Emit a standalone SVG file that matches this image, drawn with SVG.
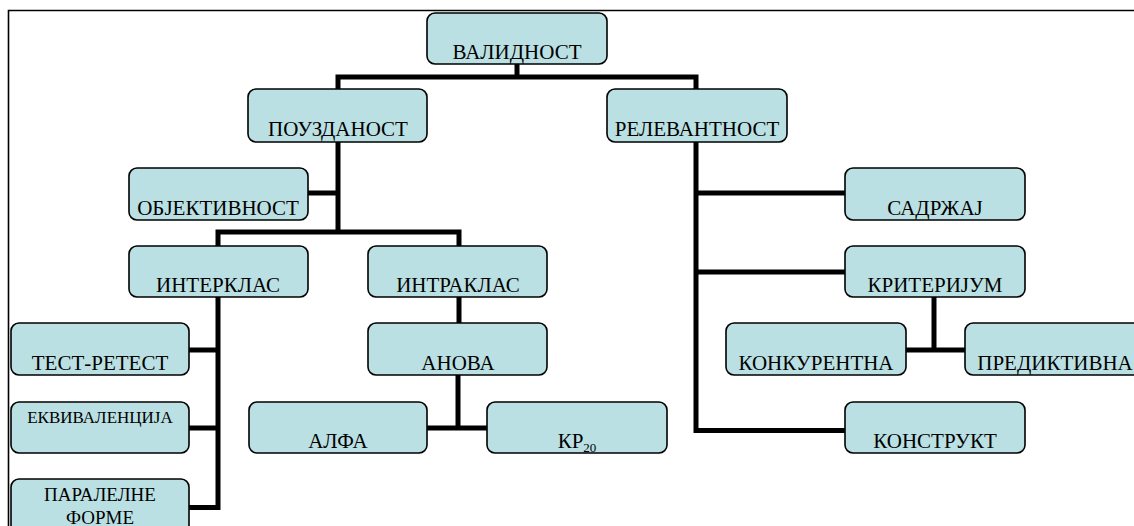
<svg xmlns="http://www.w3.org/2000/svg" width="1134" height="526" viewBox="0 0 1134 526">
<style>
.box{fill:#bae0e3;stroke:#000;stroke-width:1.6}
.t{font-family:"Liberation Serif","Times New Roman",serif;font-size:21px;fill:#000;text-anchor:middle}
.s{font-size:17px}
.p{font-size:19px}
.c{fill:none;stroke:#000;stroke-width:5;stroke-linejoin:miter;stroke-linecap:butt}
</style>
<rect width="1134" height="526" fill="#fff"/>
<path d="M8.5,530 V10.5 H1140" fill="none" stroke="#000" stroke-width="1.6"/>
<g id="connectors">
<path class="c" d="M517,64 V77"/>
<path class="c" d="M338,89 V77 H696 V89"/>
<path class="c" d="M338,142 V232"/>
<path class="c" d="M308,193 H338"/>
<path class="c" d="M218,246 V232 H459 V246"/>
<path class="c" d="M218,297 V507.5 H189"/>
<path class="c" d="M189,350 H218"/>
<path class="c" d="M189,428 H218"/>
<path class="c" d="M459,297 V323"/>
<path class="c" d="M458,375 V430"/>
<path class="c" d="M427,428 H487"/>
<path class="c" d="M696,142 V430.5 H845"/>
<path class="c" d="M696,193 H845"/>
<path class="c" d="M696,272 H845"/>
<path class="c" d="M934,297 V350"/>
<path class="c" d="M906,350 H965"/>
</g>
<g id="n-validnost"><rect class="box" x="427" y="13" width="180" height="51" rx="8"/><text class="t" x="517" y="59">ВАЛИДНОСТ</text></g>
<g id="n-pouzdanost"><rect class="box" x="248" y="89" width="179" height="53" rx="8"/><text class="t" x="338" y="136">ПОУЗДАНОСТ</text></g>
<g id="n-relevantnost"><rect class="box" x="607" y="89" width="180" height="53" rx="8"/><text class="t" x="697" y="136">РЕЛЕВАНТНОСТ</text></g>
<g id="n-objektivnost"><rect class="box" x="129" y="168" width="179" height="52" rx="8"/><text class="t" x="218" y="215">ОБЈЕКТИВНОСТ</text></g>
<g id="n-interklas"><rect class="box" x="129" y="246" width="179" height="51" rx="8"/><text class="t" x="218" y="292">ИНТЕРКЛАС</text></g>
<g id="n-intraklas"><rect class="box" x="368" y="246" width="179" height="51" rx="8"/><text class="t" x="458" y="292">ИНТРАКЛАС</text></g>
<g id="n-test-retest"><rect class="box" x="11" y="323" width="178" height="52" rx="8"/><text class="t" x="100" y="370">ТЕСТ-РЕТЕСТ</text></g>
<g id="n-ekvivalencija"><rect class="box" x="11" y="402" width="178" height="51" rx="8"/><text class="t s" x="100" y="423">ЕКВИВАЛЕНЦИЈА</text></g>
<g id="n-paralelne"><rect class="box" x="11" y="479" width="178" height="60" rx="8"/><text class="t p" x="100" y="501">ПАРАЛЕЛНЕ</text><text class="t p" x="100" y="524">ФОРМЕ</text></g>
<g id="n-anova"><rect class="box" x="368" y="323" width="179" height="52" rx="8"/><text class="t" x="458" y="370">АНОВА</text></g>
<g id="n-alfa"><rect class="box" x="249" y="402" width="178" height="51" rx="8"/><text class="t" x="338" y="448">АЛФА</text></g>
<g id="n-kr20"><rect class="box" x="487" y="402" width="180" height="51" rx="8"/><text class="t" x="577" y="448">КР<tspan font-size="13" dy="4">20</tspan></text></g>
<g id="n-sadrzaj"><rect class="box" x="845" y="168" width="180" height="52" rx="8"/><text class="t" x="935" y="215">САДРЖАЈ</text></g>
<g id="n-kriterijum"><rect class="box" x="845" y="246" width="180" height="51" rx="8"/><text class="t" x="935" y="292">КРИТЕРИЈУМ</text></g>
<g id="n-konkurentna"><rect class="box" x="726" y="323" width="180" height="52" rx="8"/><text class="t" x="816" y="370">КОНКУРЕНТНА</text></g>
<g id="n-prediktivna"><rect class="box" x="965" y="323" width="180" height="52" rx="8"/><text class="t" x="1055" y="370">ПРЕДИКТИВНА</text></g>
<g id="n-konstrukt"><rect class="box" x="845" y="402" width="180" height="51" rx="8"/><text class="t" x="935" y="448">КОНСТРУКТ</text></g>
</svg>
